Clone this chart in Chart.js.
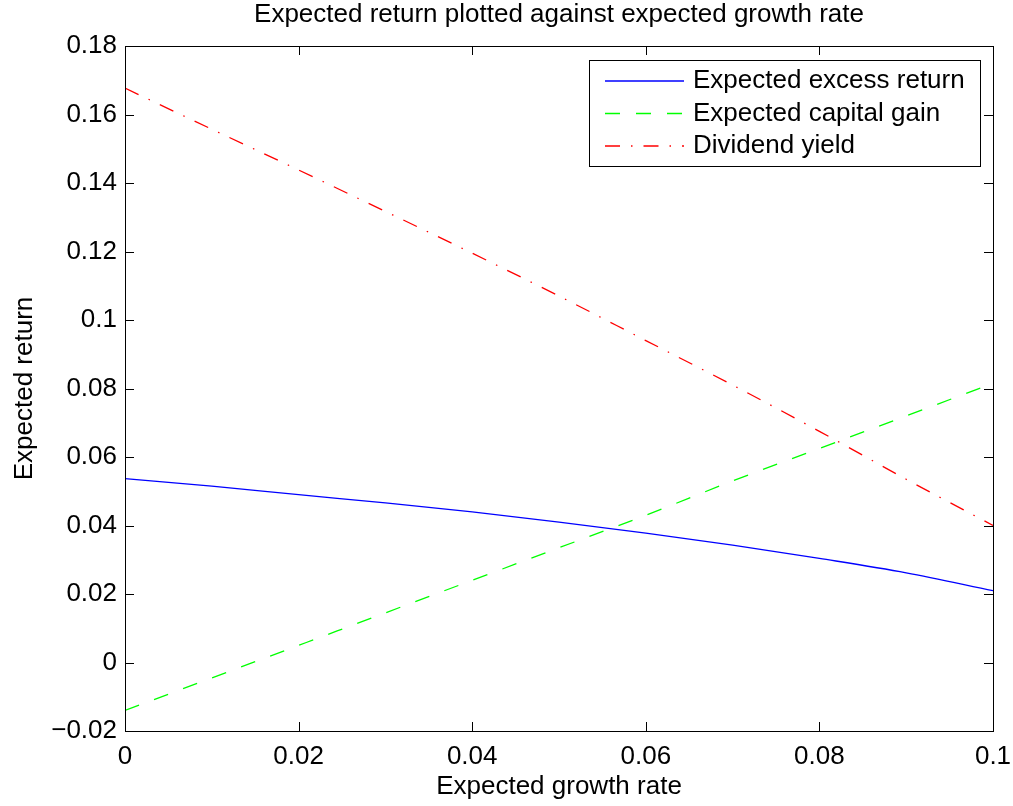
<!DOCTYPE html>
<html>
<head>
<meta charset="utf-8">
<title>Expected return plotted against expected growth rate</title>
<script src="https://cdn.jsdelivr.net/npm/chart.js@4/dist/chart.umd.min.js"></script>
<style>
    html, body { margin: 0; padding: 0; background: #fff; }
    #chart { display: block; }
</style>
</head>
<body>
<canvas id="chart" width="1013" height="806"></canvas>
<script>
// Dados
const growthRates = [0, 0.01, 0.02, 0.03, 0.04, 0.05, 0.06, 0.07, 0.08, 0.09, 0.1];
const excessReturn = [0.0537, 0.0515, 0.0490, 0.0466, 0.0440, 0.0410, 0.0378, 0.0343, 0.0304, 0.0262, 0.0210];
const capitalGain = [-0.0140, -0.0045, 0.0050, 0.0145, 0.0240, 0.0335, 0.0430, 0.0530, 0.0625, 0.0720, 0.0815];
const dividendYield = [0.1677, 0.1557, 0.1438, 0.1317, 0.1195, 0.1070, 0.0940, 0.0810, 0.0675, 0.0535, 0.0400];

const xTickLabels = ["0", "0.02", "0.04", "0.06", "0.08", "0.1"];
const yTickLabels = ["\u22120.02", "0", "0.02", "0.04", "0.06", "0.08", "0.1", "0.12", "0.14", "0.16", "0.18"];

const titleText = "Expected return plotted against expected growth rate";
const FONT = "'Liberation Sans', Arial, Helvetica, sans-serif";

function toPoints(values) {
    return growthRates.map((g, i) => ({ x: g, y: values[i] }));
}

// Título, caixa, marcas internas e legenda no estilo MATLAB
const matlabFrame = {
    id: "matlabFrame",
    afterDraw(chart) {
        const ctx = chart.ctx;
        const a = chart.chartArea;
        const xs = chart.scales.x;
        const ys = chart.scales.y;
        const tick = 9;

        ctx.save();
        ctx.strokeStyle = "#000";
        ctx.lineWidth = 1;
        ctx.strokeRect(a.left + 0.5, a.top + 0.5, a.right - a.left, a.bottom - a.top);

        ctx.beginPath();
        xs.ticks.forEach((t) => {
            const px = Math.round(xs.getPixelForValue(t.value)) + 0.5;
            ctx.moveTo(px, a.bottom); ctx.lineTo(px, a.bottom - tick);
            ctx.moveTo(px, a.top); ctx.lineTo(px, a.top + tick);
        });
        ys.ticks.forEach((t) => {
            const py = Math.round(ys.getPixelForValue(t.value)) + 0.5;
            ctx.moveTo(a.left, py); ctx.lineTo(a.left + tick, py);
            ctx.moveTo(a.right, py); ctx.lineTo(a.right - tick, py);
        });
        ctx.stroke();

        // Título
        ctx.fillStyle = "#000";
        ctx.font = "26px " + FONT;
        ctx.textAlign = "center";
        ctx.textBaseline = "middle";
        ctx.fillText(titleText, (a.left + a.right) / 2, 15);

        // Legenda
        const box = { left: 589, top: 60, right: 980, bottom: 166 };
        ctx.fillStyle = "#fff";
        ctx.fillRect(box.left, box.top, box.right - box.left, box.bottom - box.top);
        ctx.strokeStyle = "#000";
        ctx.lineWidth = 1;
        ctx.setLineDash([]);
        ctx.strokeRect(box.left + 0.5, box.top + 0.5, box.right - box.left, box.bottom - box.top);

        chart.data.datasets.forEach((ds, i) => {
            const y = 81 + i * 32.5;
            ctx.beginPath();
            ctx.strokeStyle = ds.borderColor;
            ctx.lineWidth = ds.borderWidth;
            ctx.setLineDash(ds.borderDash || []);
            ctx.moveTo(605, y);
            ctx.lineTo(684, y);
            ctx.stroke();
            ctx.setLineDash([]);
            ctx.fillStyle = "#000";
            ctx.textAlign = "left";
            ctx.textBaseline = "middle";
            ctx.fillText(ds.label, 693, y);
        });
        ctx.restore();
    }
};

const ctx = document.getElementById("chart").getContext("2d");
new Chart(ctx, {
    type: "line",
    data: {
        datasets: [
            {
                label: "Expected excess return",
                data: toPoints(excessReturn),
                borderColor: "#0000ff",
                borderWidth: 1.3,
                borderDash: []
            },
            {
                label: "Expected capital gain",
                data: toPoints(capitalGain),
                borderColor: "#00ff00",
                borderWidth: 1.3,
                borderDash: [15, 16]
            },
            {
                label: "Dividend yield",
                data: toPoints(dividendYield),
                borderColor: "#ff0000",
                borderWidth: 1.3,
                borderDash: [15, 11, 1.5, 11]
            }
        ]
    },
    options: {
        responsive: false,
        animation: false,
        devicePixelRatio: 1,
        layout: { padding: { top: 46, right: 20, left: 0, bottom: 0 } },
        elements: {
            point: { radius: 0, hoverRadius: 0 },
            line: { cubicInterpolationMode: "monotone", fill: false }
        },
        plugins: {
            legend: { display: false },
            tooltip: { enabled: false },
            title: { display: false }
        },
        scales: {
            x: {
                type: "linear",
                min: 0,
                max: 0.1,
                grid: { display: false, drawTicks: false },
                border: { display: false },
                ticks: {
                    stepSize: 0.02,
                    padding: 10,
                    color: "#000",
                    maxRotation: 0,
                    autoSkip: false,
                    font: { family: FONT, size: 26 },
                    callback: (v, i) => xTickLabels[i]
                },
                title: {
                    display: true,
                    text: "Expected growth rate",
                    color: "#000",
                    padding: { top: 0, bottom: 4 },
                    font: { family: FONT, size: 26 }
                },
                afterFit: (scale) => {
                    scale.height = 75;
                    scale.paddingLeft = 0;
                    scale.paddingRight = 0;
                }
            },
            y: {
                type: "linear",
                min: -0.02,
                max: 0.18,
                grid: { display: false, drawTicks: false },
                border: { display: false },
                ticks: {
                    stepSize: 0.02,
                    padding: 8,
                    color: "#000",
                    autoSkip: false,
                    font: { family: FONT, size: 26 },
                    callback: (v, i) => yTickLabels[i]
                },
                title: {
                    display: true,
                    text: "Expected return",
                    color: "#000",
                    padding: { top: 9, bottom: 0 },
                    font: { family: FONT, size: 26 }
                },
                afterFit: (scale) => {
                    scale.width = 125;
                    scale.paddingTop = 0;
                    scale.paddingBottom = 0;
                }
            }
        }
    },
    plugins: [matlabFrame]
});
</script>
</body>
</html>
